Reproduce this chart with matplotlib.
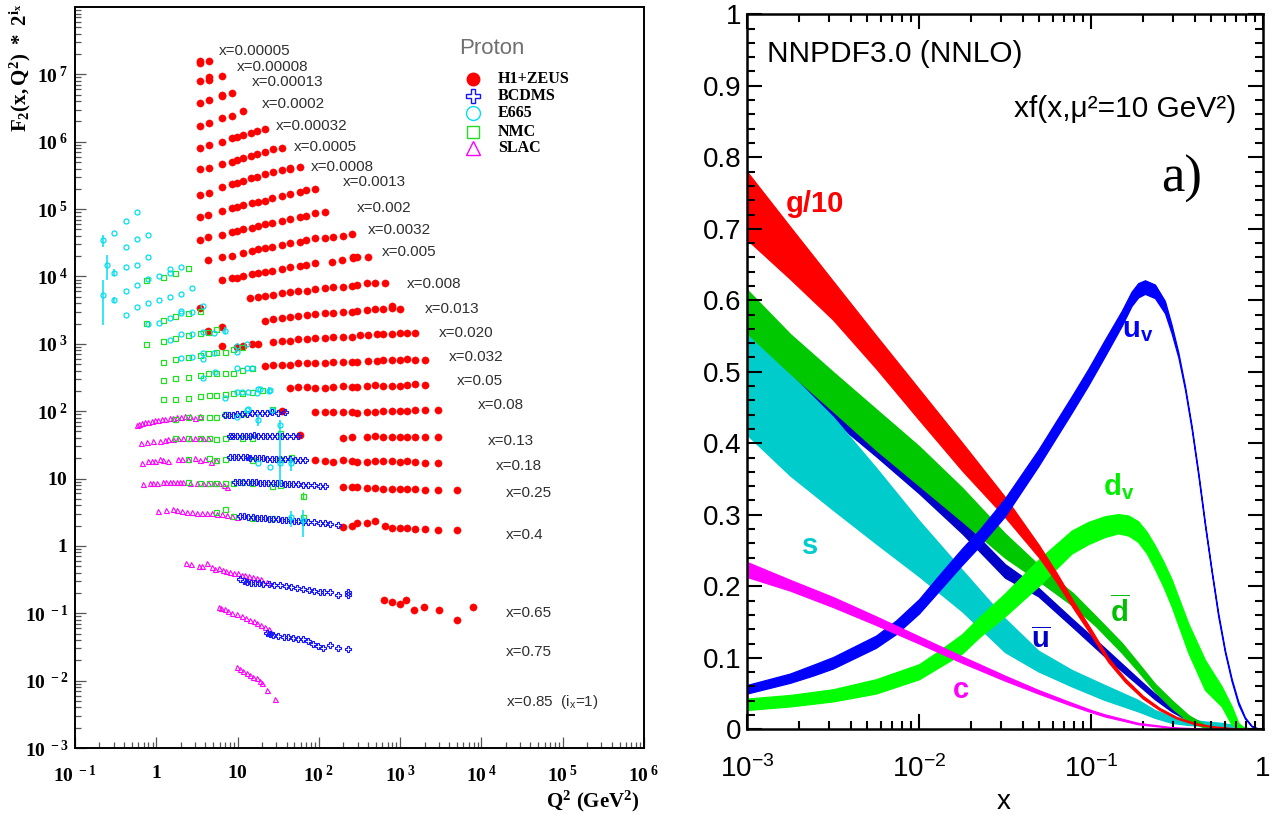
import numpy as np
import matplotlib
matplotlib.use("Agg")
import matplotlib.pyplot as plt
from matplotlib.ticker import LogLocator, NullFormatter, MultipleLocator

plt.rcParams.update({
    'font.family': ['Liberation Sans', 'DejaVu Sans'],
    'mathtext.fontset': 'custom',
    'mathtext.rm': 'Liberation Sans',
    'mathtext.it': 'Liberation Sans:italic',
    'mathtext.bf': 'Liberation Serif:bold',
    'mathtext.sf': 'Liberation Sans:bold',
})

# ---------------------------------------------------------------- left panel data
xbin_labels = ["x=0.00005", "x=0.00008", "x=0.00013", "x=0.0002", "x=0.00032", "x=0.0005",
               "x=0.0008", "x=0.0013", "x=0.002", "x=0.0032", "x=0.005", "x=0.008", "x=0.013",
               "x=0.020", "x=0.032", "x=0.05", "x=0.08", "x=0.13", "x=0.18", "x=0.25", "x=0.4",
               "x=0.65", "x=0.75", r"x=0.85  ($\mathrm{i_x}$=1)"]
xbin_label_q2 = [5.96, 9.9, 14.9, 19.8, 29.6, 49.8, 80, 200, 297, 398, 592, 1200, 2020, 3030,
                 4020, 5040, 9140, 1.21e4, 1.51e4, 2.0e4, 2.0e4, 1.99e4, 1.99e4, 1.99e4]
xbin_label_f2 = [2.24e7, 1.27e7, 7.62e6, 3.63e6, 1.71e6, 8.43e5, 4.26e5, 2.55e5, 1.03e5, 4.89e4,
                 2.33e4, 7.73e3, 3.29e3, 1.43e3, 630, 283, 123, 36.4, 15.3, 6.03, 1.45, 0.101,
                 0.0263, 0.0049]

# H1+ZEUS, one list per x bin (F2 * 2^ix)
h1_q2 = [
    [3.45, 3.45, 4.5],
    [3.45, 4.5, 4.5, 6.4],
    [3.45, 4.5, 6.4, 6.4, 8.45],
    [3.45, 4.5, 6.4, 8.45, 11.75],
    [3.45, 4.5, 6.4, 8.45, 9.75, 11.75, 14.6, 17.2, 21.7],
    [3.45, 4.5, 6.4, 8.45, 9.9, 11.75, 14.6, 17.5, 21.7, 27.0, 34.9],
    [3.45, 4.5, 6.4, 8.45, 9.75, 11.75, 14.6, 17.5, 21.7, 27.0, 34.9, 44.1, 44.1, 58.6],
    [3.45, 4.37, 6.37, 8.45, 9.75, 11.75, 14.9, 18.0, 21.7, 26.3, 34.9, 44.1, 58.6, 69.4, 89.5],
    [3.45, 4.37, 6.37, 8.45, 9.75, 11.75, 14.9, 18.0, 21.7, 26.3, 34.9, 44.1, 58.6, 69.4, 89.5, 119],
    [4.37, 6.37, 8.45, 11.75, 14.9, 18.0, 21.7, 26.3, 34.9, 44.1, 58.6, 69.4, 89.5, 119, 150, 200, 253],
    [6.37, 8.45, 9.75, 11.75, 14.9, 18.0, 21.7, 26.3, 34.9, 44.1, 58.6, 69.4, 89.5, 144, 191, 265, 265, 292, 406],
    [3.45, 14.1, 18.0, 21.7, 27.5, 34.9, 44.1, 55.8, 70.8, 89.5, 119, 150, 200, 253, 292, 387, 490, 650],
    [4.37, 6.37, 21.7, 27.5, 34.9, 44.1, 55.8, 70.8, 89.5, 119, 150, 200, 253, 292, 387, 490, 620, 785, 785, 994],
    [6.37, 9.75, 11.75, 14.9, 18.0, 27.5, 34.9, 44.1, 55.8, 70.8, 89.5, 119, 150, 200, 253, 321, 406, 514, 620, 785, 994, 1200, 1520],
    [21.7, 27.5, 34.9, 44.1, 55.8, 70.8, 89.5, 119, 150, 200, 253, 292, 406, 514, 620, 785, 994, 1200, 1520, 2020],
    [44.1, 55.8, 70.8, 89.5, 119, 150, 200, 253, 292, 387, 490, 620, 785, 994, 1200, 1520, 2020],
    [34.9, 89.5, 119, 150, 200, 253, 292, 387, 490, 620, 785, 994, 1200, 1520, 2020, 2940],
    [58.6, 200, 253, 387, 490, 620, 785, 994, 1200, 1520, 2020, 2940],
    [89.5, 119, 150, 200, 253, 292, 387, 490, 620, 785, 994, 1200, 1520, 2020, 2940],
    [200, 253, 292, 387, 490, 620, 785, 994, 1200, 1520, 2020, 2940, 4960],
    [200, 253, 292, 387, 490, 650, 785, 994, 1200, 1520, 2020, 2940, 4960],
    [641, 798, 989, 1190, 1500, 1980, 2990, 4980, 7920],
]
h1_f2 = [
    [1.6e7, 1.45e7, 1.6e7],
    [7.9e6, 9.2e6, 8.3e6, 9.6e6],
    [3.8e6, 4.1e6, 4.7e6, 5.0e6, 5.35e6],
    [1.73e6, 1.91e6, 2.23e6, 2.41e6, 2.86e6],
    [7.98e5, 8.93e5, 1.0e6, 1.12e6, 1.16e6, 1.26e6, 1.36e6, 1.46e6, 1.53e6],
    [3.89e5, 4.03e5, 4.67e5, 5.05e5, 5.36e5, 5.79e5, 6.14e5, 6.58e5, 7.11e5, 7.73e5, 7.98e5],
    [1.62e5, 1.75e5, 2.15e5, 2.36e5, 2.47e5, 2.64e5, 2.86e5, 3.03e5, 3.28e5, 3.59e5, 3.8e5, 3.89e5, 4.05e5, 4.17e5],
    [7.71e4, 8.17e4, 9.35e4, 1.03e5, 1.08e5, 1.15e5, 1.22e5, 1.29e5, 1.33e5, 1.45e5, 1.56e5, 1.67e5, 1.81e5, 1.92e5, 1.97e5],
    [3.48e4, 3.81e4, 4.12e4, 4.61e4, 4.78e4, 5.01e4, 5.3e4, 5.61e4, 5.94e4, 6.28e4, 6.71e4, 7.05e4, 7.55e4, 7.89e4, 8.83e4, 9.14e4],
    [1.75e4, 1.92e4, 2.01e4, 2.25e4, 2.39e4, 2.53e4, 2.67e4, 2.76e4, 2.93e4, 3.1e4, 3.28e4, 3.48e4, 3.68e4, 3.76e4, 3.85e4, 3.98e4, 4.23e4],
    [8.85e3, 9.38e3, 9.5e3, 1.02e4, 1.08e4, 1.11e4, 1.18e4, 1.22e4, 1.28e4, 1.37e4, 1.43e4, 1.48e4, 1.57e4, 1.66e4, 1.75e4, 1.86e4, 1.95e4, 1.96e4, 1.92e4],
    [3.37e3, 4.73e3, 5.0e3, 5.12e3, 5.3e3, 5.61e3, 5.81e3, 6.08e3, 6.08e3, 6.5e3, 6.65e3, 6.89e3, 7.05e3, 7.21e3, 7.46e3, 7.89e3, 8.07e3, 8.07e3],
    [1.56e3, 1.79e3, 2.2e3, 2.31e3, 2.44e3, 2.47e3, 2.62e3, 2.67e3, 2.74e3, 2.83e3, 2.9e3, 3.0e3, 3.0e3, 3.07e3, 3.18e3, 3.24e3, 3.28e3, 3.45e3, 3.62e3, 3.28e3],
    [923, 912, 933, 977, 982, 1076, 1099, 1112, 1164, 1164, 1205, 1233, 1247, 1276, 1276, 1349, 1349, 1380, 1396, 1396, 1429, 1462, 1429],
    [473, 484, 484, 484, 513, 513, 513, 525, 531, 543, 543, 543, 556, 561, 574, 574, 574, 587, 574, 574],
    [218, 231, 231, 223, 218, 231, 236, 231, 226, 236, 244, 236, 239, 239, 244, 253, 244],
    [101.6, 98.2, 98.2, 98.2, 98.2, 98.2, 94.8, 98.2, 98.2, 100.5, 101.6, 101.6, 101.6, 104, 104, 104],
    [44.3, 40.4, 41.8, 41.5, 42.2, 40.8, 41.8, 41.2, 42.0, 41.5, 41.8, 41.6],
    [18.8, 18.4, 17.8, 18.8, 18.4, 17.8, 17.8, 18.2, 18.4, 18.4, 17.8, 18.2, 17.8, 17.2, 17.2],
    [7.57, 7.4, 7.4, 7.14, 7.14, 6.9, 6.9, 6.98, 6.98, 6.9, 6.75, 6.75, 6.75],
    [1.93, 1.97, 2.16, 2.21, 2.37, 1.97, 1.82, 1.82, 1.82, 1.76, 1.76, 1.72, 1.72],
    [0.156, 0.145, 0.139, 0.156, 0.111, 0.124, 0.111, 0.079, 0.124],
]

# BCDMS (x = 0.08, 0.13, 0.18, 0.25, 0.4, 0.65, 0.75)
bcdms_q2 = [
    [7.0, 7.9, 8.86, 9.9, 11.2, 12.9, 14.9, 17.2, 19.8, 22.8, 26.3, 31.7, 38.3],
    [8.1, 8.9, 9.9, 11.2, 12.7, 14.1, 15.8, 18.0, 20.3, 23.2, 26.3, 30.4, 34.9, 40.1, 48.5, 56],
    [8.1, 9.0, 10.1, 11.5, 12.9, 14.4, 16.2, 18.4, 20.6, 23.3, 26.3, 29.6, 33.2, 38.3, 44.1, 50.8, 58.6, 67.5],
    [9.3, 10.5, 11.8, 13.3, 14.9, 16.8, 18.9, 21.3, 23.9, 27.0, 30.4, 34.4, 38.3, 43.2, 48.5, 56, 64.6, 74.5, 86, 102, 119],
    [10.7, 12.0, 13.5, 15.3, 17.2, 19.3, 21.7, 24.5, 27.5, 31, 34.9, 39.3, 44.1, 49.7, 55.8, 64.6, 74.5, 86, 102, 119, 137, 173],
    [10.7, 11.9, 13.2, 14.8, 16.5, 18.3, 20.4, 24.1, 28.3, 33.3, 39.2, 46, 54.2, 63.7, 75.1, 88.3, 104, 116, 136, 173, 226, 226],
    [22.8, 24.8, 27.1, 31.5, 37.1, 42.3, 48.6, 55.3, 63.7, 73.4, 83.6, 98.4, 113, 136, 173, 226],
]
bcdms_f2 = [
    [87.7, 88.5, 87.9, 89.7, 90.8, 90.5, 92.9, 92.4, 94.8, 94.3, 96, 95.5, 96.4],
    [42.5, 43.0, 43.2, 43.5, 43.0, 43.3, 43.6, 43.3, 43.0, 43.4, 43.1, 43.5, 43.2, 43.0, 43.3, 42.9],
    [21.1, 21.0, 20.8, 20.8, 20.6, 20.4, 20.3, 20.2, 20.0, 19.8, 19.7, 19.6, 19.5, 19.3, 19.2, 19.0, 18.9, 18.8],
    [9.0, 8.96, 8.9, 8.86, 8.8, 8.74, 8.71, 8.66, 8.6, 8.55, 8.52, 8.45, 8.4, 8.33, 8.3, 8.2, 8.12, 8.04, 7.96, 7.86, 7.75],
    [2.78, 2.74, 2.71, 2.66, 2.63, 2.6, 2.56, 2.54, 2.5, 2.47, 2.45, 2.41, 2.39, 2.36, 2.34, 2.3, 2.27, 2.24, 2.2, 2.16, 2.12, 2.05],
    [0.319, 0.302, 0.292, 0.286, 0.286, 0.279, 0.27, 0.27, 0.264, 0.261, 0.25, 0.243, 0.235, 0.23, 0.222, 0.217, 0.21, 0.205, 0.205, 0.188, 0.21, 0.184],
    [0.0503, 0.0492, 0.0482, 0.0466, 0.044, 0.0451, 0.0431, 0.0417, 0.0417, 0.0394, 0.0347, 0.0324, 0.030, 0.0335, 0.031, 0.029],
]

# E665
e665_q2 = [0.223, 0.223, 0.245,
           0.304, 0.304, 0.304,
           0.42, 0.42, 0.42, 0.42, 0.42,
           0.574, 0.574, 0.574, 0.574, 0.574,
           0.784, 0.784, 0.784, 0.784, 0.784,
           1.08, 1.08, 1.08,
           1.47, 1.47, 1.47, 1.47, 1.47,
           2.01, 2.01, 2.01, 2.01, 2.01, 2.01,
           2.72, 2.72, 2.72, 2.72,
           3.78, 3.78, 3.78, 3.78,
           5.17, 5.17,
           7.0,
           9.75, 9.75, 9.75,
           12.9, 12.9,
           5.3, 14.9,
           3.78, 7.0, 9.75, 11.2, 13.5, 17.2, 18.0, 18.9, 24.5, 25.0,
           9.75, 12.9, 13.5, 18.0, 26.3, 33.2,
           18.0, 25.0, 33.2, 45.6,
           45.6, 64.0]
e665_f2 = [3.48e4, 5.31e3, 1.48e4,
           4.47e4, 1.14e4, 4.48e3,
           6.73e4, 2.77e4, 1.4e4, 6.08e3, 2.68e3,
           9.06e4, 3.64e4, 1.48e4, 7.45e3, 3.56e3,
           4.13e4, 1.97e4, 9.06e3, 3.99e3, 1.97e3,
           1.02e4, 4.48e3, 2.05e3,
           1.28e4, 1.14e4, 5.01e3, 2.44e3, 1.14e3,
           1.37e4, 5.5e3, 3.1e3, 2.9e3, 1.38e3, 609,
           6.67e3, 3.0e3, 1.4e3, 644,
           3.64e3, 1.51e3, 723, 596,
           1.47e3, 723,
           1.57e3,
           929, 764, 433,
           982, 433,
           386, 440,
           307, 155, 190, 195, 192, 184, 211, 211, 202, 206,
           82.8, 104, 106, 73.9, 104, 62.4,
           16.8, 15.0, 16.8, 16.8,
           2.72, 2.42]
e665_err_q2 = [0.223, 0.245, 0.223, 0.304, 0.304, 7.0, 18.0, 24.5, 33.2, 45.6, 45.6, 64.0]
e665_err_lo = [2.77e4, 8.85e3, 1.9e3, 1.0e4, 4.0e3, 1.42e3, 60, 180, 7.7, 13.0, 1.9, 1.37]
e665_err_hi = [4.13e4, 2.08e4, 8.85e3, 1.28e4, 5.0e3, 1.75e3, 90, 225, 74, 21.0, 3.3, 3.4]

# NMC
nmc_q2 = [0.74, 0.74, 0.74,
          1.22, 1.7, 2.48,
          1.22, 1.7, 2.48, 3.45,
          1.22, 1.7, 2.48, 3.45, 4.37, 5.42,
          1.22, 1.7, 2.48, 3.45, 4.37, 5.42, 7.0, 8.86, 11.2,
          1.22, 1.7, 2.48, 3.45, 4.37, 5.42, 7.0, 8.86, 11.2, 14.9,
          1.22, 1.7, 2.48, 3.45, 4.4, 5.42, 7.0, 8.86, 11.2, 14.9, 19.8,
          1.7, 2.48, 3.45, 4.4, 5.42, 7.0, 11.75, 26.3,
          1.7, 2.48, 3.45, 4.4, 5.42, 7.0, 11.2, 14.9, 33.2,
          2.48, 4.4, 5.42, 7.0, 14.9, 33.2, 45.6,
          2.48, 3.45, 4.4, 5.42, 7.0, 8.86, 11.2, 14.9, 26.3, 33.2,
          64.0,
          5.42, 7.0, 8.86, 14.9, 26.3, 64.0]
nmc_f2 = [8.8e3, 2.05e3, 1.0e3,
          9.93e3, 1.14e4, 1.32e4,
          2.26e3, 2.59e3, 2.84e3, 3.11e3,
          1.11e3, 1.21e3, 1.35e3, 1.47e3, 1.51e3, 1.66e3,
          543, 596, 645, 682, 723, 748, 766, 828, 908,
          290, 308, 325, 344, 365, 373, 373, 373, 408, 433,
          150, 150, 155, 168, 174, 174, 180, 184, 188, 195, 206,
          75.7, 81, 82.8, 82.8, 82.8, 89.7, 92.9, 106,
          39.5, 39.5, 39.5, 39.5, 38.2, 39.5, 40.4, 40.4, 46.9,
          19.3, 19.95, 18.8, 19.3, 18.8, 19.3, 20.6,
          8.97, 8.67, 8.67, 8.67, 8.67, 8.47, 8.97, 8.67, 7.74, 8.0,
          5.5,
          3.22, 3.49, 2.78, 2.56, 2.56, 2.72]

# SLAC (x = 0.08, 0.13, 0.18, 0.25, 0.4, 0.65, 0.75, 0.85)
slac_q2 = [
    [0.574, 0.618, 0.66, 0.726, 0.8, 0.88, 0.97, 1.06, 1.17, 1.28, 1.47, 1.62, 1.81, 2.0, 2.26, 2.6, 2.98, 3.45],
    [0.64, 0.76, 0.92, 1.11, 1.28, 1.4, 1.62, 1.87, 2.16, 2.6, 2.98, 3.45, 3.78, 4.37],
    [0.66, 0.8, 0.88, 0.97, 1.11, 1.22, 1.4, 1.87, 2.05, 2.48, 2.98, 3.45, 4.0, 4.68, 5.5],
    [0.69, 0.84, 0.92, 1.01, 1.22, 1.33, 1.47, 1.62, 1.78, 1.95, 2.16, 2.6, 3.14, 3.78, 4.37, 5.07, 5.85, 6.76, 7.5],
    [1.06, 1.33, 1.62, 1.81, 2.05, 2.36, 2.72, 3.14, 3.63, 4.2, 4.84, 5.6, 6.45, 7.5, 8.6, 9.75],
    [2.34, 2.7, 3.31, 3.69, 4.24, 4.88, 5.27, 5.87, 6.54, 7.3, 8.13, 9.06, 10.1, 11.3, 12.5, 14.0, 15.6, 17.4, 19.4, 22.8],
    [5.87, 6.34, 6.92, 7.71, 8.59, 9.77, 11.3, 12.8, 14.3, 15.9, 17.4, 19.4, 21.6, 24.1],
    [9.77, 10.7, 11.6, 13.0, 14.3, 15.6, 17.4, 18.7, 20.0, 22.8, 28.9],
]
slac_f2 = [
    [62.4, 64, 66, 68, 70, 71.5, 73, 74.5, 76, 77.5, 79, 80.5, 82, 83, 84, 85.5, 80, 86],
    [34.1, 35.2, 36.5, 36.5, 37.3, 38.2, 38.2, 39.5, 39.5, 40.4, 39.5, 40.4, 39.5, 39.5],
    [16.8, 18.4, 18.4, 18.4, 19.3, 18.8, 18.4, 19.3, 19.3, 19.3, 19.95, 18.8, 19.3, 17.8, 18.8],
    [8.29, 8.67, 8.47, 8.47, 8.97, 8.97, 8.97, 8.97, 8.97, 8.97, 8.97, 8.67, 8.67, 8.67, 8.47, 8.67, 8.47, 8.0, 7.57],
    [3.33, 3.41, 3.49, 3.41, 3.33, 3.22, 3.22, 3.11, 3.04, 3.11, 3.04, 2.97, 2.94, 2.87, 2.81, 2.72],
    [0.565, 0.54, 0.495, 0.505, 0.565, 0.485, 0.455, 0.469, 0.444, 0.43, 0.405, 0.397, 0.39, 0.376, 0.365, 0.356, 0.349, 0.337, 0.326, 0.292],
    [0.125, 0.119, 0.115, 0.108, 0.102, 0.097, 0.09, 0.086, 0.08, 0.076, 0.072, 0.066, 0.062, 0.058],
    [0.016, 0.0148, 0.014, 0.0128, 0.0122, 0.0115, 0.0108, 0.01, 0.0093, 0.0072, 0.0053],
]

legend_names = ["H1+ZEUS", "BCDMS", "E665", "NMC", "SLAC"]

# ---------------------------------------------------------------- right panel data (xf(x), mu^2 = 10 GeV^2)
g_x = [0.001, 0.00178, 0.00316, 0.00562, 0.01, 0.0178, 0.0316, 0.05, 0.063, 0.079, 0.1, 0.126, 0.158, 0.2, 0.25, 0.316, 0.4, 0.5, 0.7, 1.0]
g_hi = [0.780, 0.703, 0.627, 0.551, 0.476, 0.401, 0.325, 0.257, 0.219, 0.179, 0.140, 0.100, 0.071, 0.047, 0.030, 0.017, 0.009, 0.0045, 0.0012, 0.0]
g_lo = [0.685, 0.630, 0.573, 0.505, 0.433, 0.362, 0.297, 0.240, 0.206, 0.169, 0.132, 0.094, 0.066, 0.043, 0.027, 0.015, 0.007, 0.0033, 0.0006, 0.0]

dbar_x = [0.001, 0.00178, 0.00316, 0.00562, 0.01, 0.0178, 0.0316, 0.05, 0.079, 0.107, 0.151, 0.188, 0.235, 0.294, 0.368, 0.46, 0.575, 1.0]
dbar_hi = [0.615, 0.553, 0.500, 0.448, 0.396, 0.338, 0.274, 0.229, 0.19, 0.158, 0.121, 0.093, 0.064, 0.041, 0.02, 0.006, 0.001, 0.0]
dbar_lo = [0.554, 0.498, 0.445, 0.391, 0.341, 0.291, 0.240, 0.207, 0.172, 0.144, 0.107, 0.081, 0.053, 0.030, 0.011, 0.002, 0.0, 0.0]

ubar_x = [0.001, 0.00178, 0.00316, 0.00562, 0.01, 0.0178, 0.0316, 0.0494, 0.0773, 0.12, 0.188, 0.235, 0.294, 0.368, 0.46, 0.575, 1.0]
ubar_hi = [0.585, 0.520, 0.447, 0.398, 0.349, 0.292, 0.231, 0.198, 0.155, 0.114, 0.071, 0.050, 0.032, 0.018, 0.008, 0.002, 0.0]
ubar_lo = [0.560, 0.495, 0.432, 0.382, 0.330, 0.274, 0.212, 0.186, 0.144, 0.102, 0.062, 0.042, 0.025, 0.012, 0.004, 0.0, 0.0]

s_x = [0.001, 0.00178, 0.00316, 0.00562, 0.01, 0.0178, 0.0316, 0.0494, 0.0773, 0.12, 0.188, 0.235, 0.294, 0.368, 0.46, 0.575, 0.72, 0.85, 1.0]
s_hi = [0.552, 0.497, 0.437, 0.366, 0.292, 0.223, 0.155, 0.110, 0.083, 0.062, 0.041, 0.027, 0.018, 0.014, 0.011, 0.009, 0.005, 0.001, 0.0]
s_lo = [0.412, 0.355, 0.307, 0.260, 0.214, 0.165, 0.108, 0.081, 0.060, 0.041, 0.025, 0.016, 0.009, 0.006, 0.005, 0.003, 0.0005, 0.0, 0.0]

c_x = [0.001, 0.00178, 0.00316, 0.00562, 0.01, 0.0178, 0.0316, 0.0494, 0.0773, 0.1, 0.12, 0.188, 0.294, 0.46, 0.7, 1.0]
c_hi = [0.234, 0.209, 0.185, 0.158, 0.130, 0.102, 0.075, 0.055, 0.037, 0.027, 0.021, 0.009, 0.003, 0.0008, 0.0001, 0.0]
c_lo = [0.213, 0.194, 0.171, 0.146, 0.120, 0.093, 0.068, 0.050, 0.033, 0.024, 0.018, 0.007, 0.002, 0.0003, 0.0, 0.0]

uv_x = [0.001, 0.00178, 0.00241, 0.00316, 0.00562, 0.00734, 0.01, 0.01312, 0.0178, 0.02244, 0.0316,
        0.0494, 0.0773, 0.0964, 0.1205, 0.1507, 0.172, 0.188, 0.206, 0.2355, 0.269, 0.294,
        0.322, 0.352, 0.385, 0.421, 0.46, 0.503, 0.549, 0.601, 0.657, 0.718, 0.785, 0.859, 0.94, 1.0]
uv_hi = [0.062, 0.078, 0.090, 0.101, 0.131, 0.152, 0.182, 0.216, 0.253, 0.279, 0.323,
         0.391, 0.466, 0.504, 0.545, 0.585, 0.612, 0.624, 0.628, 0.622, 0.599, 0.566,
         0.527, 0.480, 0.424, 0.359, 0.289, 0.223, 0.163, 0.111, 0.071, 0.039, 0.017, 0.005, 0.001, 0.0]
uv_lo = [0.050, 0.065, 0.075, 0.085, 0.114, 0.133, 0.162, 0.194, 0.230, 0.256, 0.298,
         0.368, 0.443, 0.481, 0.522, 0.564, 0.592, 0.604, 0.609, 0.603, 0.582, 0.554,
         0.520, 0.475, 0.419, 0.354, 0.284, 0.219, 0.158, 0.107, 0.067, 0.035, 0.015, 0.004, 0.0, 0.0]

dv_x = [0.001, 0.00178, 0.00316, 0.00562, 0.01, 0.01312, 0.0178, 0.02244, 0.0316, 0.0494,
        0.0773, 0.0964, 0.1205, 0.144, 0.165, 0.188, 0.211, 0.2355, 0.263, 0.294,
        0.368, 0.46, 0.575, 0.658, 0.719, 0.785, 1.0]
dv_hi = [0.043, 0.048, 0.056, 0.070, 0.091, 0.110, 0.133, 0.157, 0.190, 0.237,
         0.278, 0.290, 0.298, 0.301, 0.299, 0.291, 0.276, 0.257, 0.235, 0.210,
         0.148, 0.097, 0.060, 0.032, 0.009, 0.001, 0.0]
dv_lo = [0.027, 0.032, 0.039, 0.050, 0.070, 0.087, 0.106, 0.129, 0.158, 0.200,
         0.246, 0.259, 0.269, 0.274, 0.271, 0.262, 0.246, 0.224, 0.200, 0.172,
         0.107, 0.055, 0.032, 0.006, 0.002, 0.0, 0.0]

curve_labels = ["g/10", r"$\mathsf{u_v}$", r"$\mathsf{d_v}$", r"$\mathsf{\overline{d}}$",
                r"$\mathsf{\overline{u}}$", "s", "c"]
curve_label_x = [0.00248, 0.186, 0.1455, 0.148, 0.051, 0.00232, 0.01746]
curve_label_y = [0.735, 0.558, 0.339, 0.164, 0.125, 0.257, 0.055]

# ---------------------------------------------------------------- figure
W, H = 1279, 818
fig = plt.figure(figsize=(W / 100, H / 100), dpi=100)
fig.patch.set_facecolor('white')


def fx(px):
    return px / W


def fy(py):
    return 1 - py / H


# ---------------- left panel
axL = fig.add_axes([fx(75), fy(748), (644 - 75) / W, (748 - 7) / H])
axL.set_xscale('log')
axL.set_yscale('log')
axL.set_xlim(0.1, 1e6)
axL.set_ylim(1e-3, 1e8)

RED, BLUE, CYAN, GREEN, MAG = '#ff0000', '#1414ff', '#00e0f0', '#22dd22', '#ff00ff'

for q, f in zip(h1_q2, h1_f2):
    axL.plot(q, f, ls='none', marker='o', ms=5.2, mfc=RED, mec=RED, mew=0.3, zorder=3)
for q, f in zip(slac_q2, slac_f2):
    axL.plot(q, f, ls='none', marker='^', ms=3.6, mfc='none', mec=MAG, mew=0.8, zorder=4)
axL.plot(nmc_q2, nmc_f2, ls='none', marker='s', ms=3.6, mfc='none', mec=GREEN, mew=0.9, zorder=5)
axL.vlines([64.0], [4.9], [6.3], color=GREEN, lw=1, zorder=5)
for q, f in zip(bcdms_q2, bcdms_f2):
    axL.plot(q, f, ls='none', marker='P', ms=4.2, mfc='none', mec=BLUE, mew=0.8, zorder=6)
axL.plot(e665_q2, e665_f2, ls='none', marker='o', ms=3.6, mfc='none', mec=CYAN, mew=0.9, zorder=7)
axL.vlines(e665_err_q2, e665_err_lo, e665_err_hi, color=CYAN, lw=1.1, zorder=7)

for lab, q, f in zip(xbin_labels, xbin_label_q2, xbin_label_f2):
    axL.text(q, f, lab, ha='left', va='center', fontsize=11, color='#303030')

xt_L = [1e-1, 1, 10, 1e2, 1e3, 1e4, 1e5, 1e6]
xt_L_lab = [r'$\mathbf{10^{\;-1}}$', r'$\mathbf{1}$', r'$\mathbf{10}$', r'$\mathbf{10^{\;2}}$',
            r'$\mathbf{10^{\;3}}$', r'$\mathbf{10^{\;4}}$', r'$\mathbf{10^{\;5}}$', r'$\mathbf{10^{\;6}}$']
yt_L = [1e-3, 1e-2, 1e-1, 1, 10, 1e2, 1e3, 1e4, 1e5, 1e6, 1e7]
yt_L_lab = [r'$\mathbf{10^{\;-3}}$', r'$\mathbf{10^{\;-2}}$', r'$\mathbf{10^{\;-1}}$', r'$\mathbf{1}$',
            r'$\mathbf{10}$', r'$\mathbf{10^{\;2}}$', r'$\mathbf{10^{\;3}}$', r'$\mathbf{10^{\;4}}$',
            r'$\mathbf{10^{\;5}}$', r'$\mathbf{10^{\;6}}$', r'$\mathbf{10^{\;7}}$']
axL.set_xticks(xt_L)
axL.set_xticklabels(xt_L_lab, fontsize=14)
axL.set_yticks(yt_L)
axL.set_yticklabels(yt_L_lab, fontsize=14)
axL.xaxis.set_minor_locator(LogLocator(base=10, subs=np.arange(2, 10), numticks=100))
axL.yaxis.set_minor_locator(LogLocator(base=10, subs=np.arange(2, 10), numticks=100))
axL.xaxis.set_minor_formatter(NullFormatter())
axL.yaxis.set_minor_formatter(NullFormatter())
axL.tick_params(which='both', direction='in', top=False, right=False, width=0.9, color='#555555')
axL.tick_params(which='major', length=8)
axL.tick_params(which='minor', length=4)
axL.tick_params(axis='x', which='major', pad=12)
axL.tick_params(axis='y', which='major', pad=5)
for sp in axL.spines.values():
    sp.set_linewidth(1.4)

fig.text(fx(20), fy(3), r'$\mathbf{F_2(x,Q^2)\ *\ 2^{i_x}}$', rotation=90, ha='center', va='top', fontsize=15)
fig.text(fx(640), fy(801), r'$\mathbf{Q^2\ (GeV^2)}$', ha='right', va='center', fontsize=15)

# legend
fig.text(fx(492), fy(48), 'Proton', ha='center', va='center', fontsize=16, color='#707070')
leg_y = [79.3, 95.7, 113.3, 131.7, 148.3]
leg_style = [dict(marker='o', mfc=RED, mec=RED, ms=9),
             dict(marker='P', mfc='none', mec=BLUE, ms=10, mew=1.0),
             dict(marker='o', mfc='none', mec=CYAN, ms=10, mew=1.0),
             dict(marker='s', mfc='none', mec=GREEN, ms=9, mew=1.0),
             dict(marker='^', mfc='none', mec=MAG, ms=10, mew=1.0)]
for name, py, st in zip(legend_names, leg_y, leg_style):
    axL.plot([(472.7 - 75) / 569], [(748 - py) / 741], transform=axL.transAxes, ls='none', clip_on=False, **st)
    fig.text(fx(498), fy(py), name, ha='left', va='center', fontsize=11.5, fontfamily='Liberation Serif',
             fontweight='bold')

# ---------------- right panel
axR = fig.add_axes([fx(747), fy(729.3), 516 / W, 715 / H])
axR.set_xscale('log')
axR.set_xlim(1e-3, 1)
axR.set_ylim(0, 1)

bands = [(ubar_x, ubar_lo, ubar_hi, '#0000c8'),
         (s_x, s_lo, s_hi, '#00cccc'),
         (dbar_x, dbar_lo, dbar_hi, '#00c800'),
         (dv_x, dv_lo, dv_hi, '#00ff00'),
         (g_x, g_lo, g_hi, '#ff0000'),
         (uv_x, uv_lo, uv_hi, '#0000ff'),
         (c_x, c_lo, c_hi, '#ff00ff')]
for i, (bx, lo, hi, col) in enumerate(bands):
    axR.fill_between(bx, lo, hi, facecolor=col, edgecolor=col, lw=0.9, zorder=1 + 0.1 * i)

label_colors = ['#ff0000', '#0000ff', '#00ee00', '#00c000', '#0000c8', '#00cccc', '#ff00ff']
for lab, lx, ly, col in zip(curve_labels, curve_label_x, curve_label_y, label_colors):
    axR.text(lx, ly, lab, ha='center', va='center', fontsize=21, color=col, fontweight='bold', zorder=5)

axR.text(0.0388, 0.945, 'NNPDF3.0 (NNLO)', transform=axR.transAxes, ha='left', va='center', fontsize=21.5)
axR.text(0.9477, 0.867, 'xf(x,\u03bc\u00b2=10 GeV\u00b2)', transform=axR.transAxes, ha='right', va='center',
         fontsize=21.5)
axR.text(0.843, 0.77, 'a)', transform=axR.transAxes, ha='center', va='center', fontsize=38,
         fontfamily='Liberation Serif')

xt_R = [1e-3, 1e-2, 1e-1, 1]
xt_R_lab = [r'$10^{-3}$', r'$10^{-2}$', r'$10^{-1}$', '1']
yt_R = [0.0, 0.1, 0.2, 0.3, 0.4, 0.5, 0.6, 0.7, 0.8, 0.9, 1.0]
yt_R_lab = ['0', '0.1', '0.2', '0.3', '0.4', '0.5', '0.6', '0.7', '0.8', '0.9', '1']
axR.set_xticks(xt_R)
axR.set_xticklabels(xt_R_lab, fontsize=20)
axR.set_yticks(yt_R)
axR.set_yticklabels(yt_R_lab, fontsize=20)
axR.xaxis.set_minor_locator(LogLocator(base=10, subs=np.arange(2, 10), numticks=100))
axR.xaxis.set_minor_formatter(NullFormatter())
axR.yaxis.set_minor_locator(MultipleLocator(0.02))
axR.tick_params(which='both', direction='in', top=True, right=True, width=1.5)
axR.tick_params(which='major', length=10.5)
axR.tick_params(which='minor', length=5.5)
axR.tick_params(axis='x', which='major', pad=19)
axR.tick_params(axis='y', which='major', pad=4)
for sp in axR.spines.values():
    sp.set_linewidth(1.8)
    sp.set_zorder(10)

fig.text(fx(1004), fy(802), 'x', ha='center', va='center', fontsize=20)

fig.savefig('out.png', dpi=100, facecolor='white')
